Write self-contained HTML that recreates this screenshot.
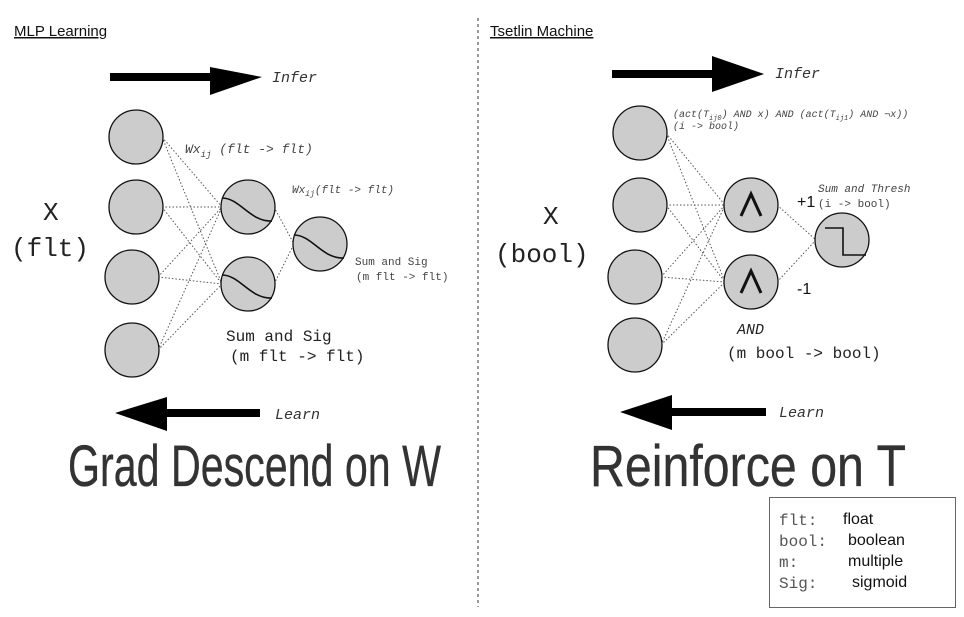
<!DOCTYPE html>
<html><head><meta charset="utf-8"><style>
html,body{margin:0;padding:0;background:#fff;}
svg{display:block;}
.mono{font-family:"Liberation Mono",monospace;}
.sans{font-family:"Liberation Sans",sans-serif;}
</style></head><body>
<svg width="964" height="617" viewBox="0 0 964 617" xmlns="http://www.w3.org/2000/svg">
<rect width="964" height="617" fill="#fff"/>
<line x1="478" y1="18" x2="478" y2="607" stroke="#333" stroke-dasharray="3,3" stroke-width="1"/>

<text x="14" y="36" class="sans" font-size="15" fill="#111" text-decoration="underline">MLP Learning</text>
<text x="490" y="36" class="sans" font-size="15" fill="#111" text-decoration="underline">Tsetlin Machine</text>

<!-- arrows -->
<g><rect x="110" y="73" width="102" height="8" fill="#000"/><polygon points="210,67 262,77 210,95" fill="#000"/></g>
<text x="272" y="82" class="mono" font-style="italic" font-size="15" fill="#333">Infer</text>
<g><rect x="165" y="409" width="95" height="8" fill="#000"/><polygon points="167,397 115,413 167,431" fill="#000"/></g>
<text x="275" y="419" class="mono" font-style="italic" font-size="15" fill="#333">Learn</text>

<g><rect x="612" y="70" width="102" height="8" fill="#000"/><polygon points="712,56 764,74 712,92" fill="#000"/></g>
<text x="775" y="78" class="mono" font-style="italic" font-size="15" fill="#333">Infer</text>
<g><rect x="670" y="408" width="96" height="8" fill="#000"/><polygon points="672,395 620,412 672,430" fill="#000"/></g>
<text x="779" y="417" class="mono" font-style="italic" font-size="15" fill="#333">Learn</text>

<g id="links" stroke="#555" stroke-width="1" stroke-dasharray="1.5,2" fill="none"></g>
<g id="nodes"></g>

<!-- left labels -->
<text x="43" y="220" class="mono" font-size="26" fill="#222">X</text>
<text x="11" y="256" class="mono" font-size="26" fill="#222">(flt)</text>
<text x="185" y="153" class="mono" font-style="italic" font-size="13" fill="#444">Wx<tspan font-size="9" dy="4">ij</tspan><tspan dy="-4"> (flt -&gt; flt)</tspan></text>
<text x="292" y="193" class="mono" font-style="italic" font-size="11" fill="#444">Wx<tspan font-size="8" dy="3">ij</tspan><tspan dy="-3">(flt -&gt; flt)</tspan></text>
<text x="355" y="265" class="mono" font-size="11" fill="#444">Sum and Sig</text>
<text x="356" y="280" class="mono" font-size="11" fill="#444">(m flt -&gt; flt)</text>
<text x="226" y="341" class="mono" font-size="16" fill="#222">Sum and Sig</text>
<text x="230" y="361" class="mono" font-size="16" fill="#222">(m flt -&gt; flt)</text>

<!-- right labels -->
<text x="543" y="224" class="mono" font-size="26" fill="#222">X</text>
<text x="495" y="262" class="mono" font-size="26" fill="#222">(bool)</text>
<text x="673" y="117" class="mono" font-style="italic" font-size="10" fill="#444">(act(T<tspan font-size="7" dy="3">ij0</tspan><tspan dy="-3">) AND x) AND (act(T</tspan><tspan font-size="7" dy="3">ij1</tspan><tspan dy="-3">) AND ¬x))</tspan></text>
<text x="673" y="129" class="mono" font-style="italic" font-size="10" fill="#444">(i -&gt; bool)</text>
<text x="797" y="207" class="sans" font-size="16" fill="#111">+1</text>
<text x="797" y="294" class="sans" font-size="16" fill="#111">-1</text>
<text x="818" y="192" class="mono" font-style="italic" font-size="11" fill="#444">Sum and Thresh</text>
<text x="818" y="207" class="mono" font-size="11" fill="#444">(i -&gt; bool)</text>
<text x="737" y="334" class="mono" font-style="italic" font-size="15" fill="#222">AND</text>
<text x="727" y="358" class="mono" font-size="16" fill="#222">(m bool -&gt; bool)</text>

<!-- big titles -->
<text x="68" y="486" class="sans" font-size="58" fill="#333" stroke="#222" stroke-width="0.3" textLength="373" lengthAdjust="spacingAndGlyphs">Grad Descend on W</text>
<text x="590" y="486" class="sans" font-size="58" fill="#333" stroke="#222" stroke-width="0.3" textLength="316" lengthAdjust="spacingAndGlyphs">Reinforce on T</text>

<!-- legend -->
<g>
<rect x="769.5" y="497.5" width="186" height="110" fill="#fff" stroke="#666" stroke-width="1"/>
<text x="779" y="525" class="mono" font-size="16" fill="#555">flt:</text><text x="843" y="524" class="sans" font-size="16" fill="#111">float</text>
<text x="779" y="546" class="mono" font-size="16" fill="#555">bool:</text><text x="848" y="545" class="sans" font-size="16" fill="#111">boolean</text>
<text x="779" y="567" class="mono" font-size="16" fill="#555">m:</text><text x="848" y="566" class="sans" font-size="16" fill="#111">multiple</text>
<text x="779" y="588" class="mono" font-size="16" fill="#555">Sig:</text><text x="852" y="587" class="sans" font-size="16" fill="#111">sigmoid</text>
</g>
</svg>
<script>
const NS='http://www.w3.org/2000/svg';
const links=document.getElementById('links'), nodes=document.getElementById('nodes');
const R=27;
const leftIn=[[136,137],[136,207],[132,277],[132,350]];
const leftHid=[[248,207],[248,284]];
const leftOut=[[320,244]];
const rightIn=[[640,133],[640,205],[635,277],[635,345]];
const rightHid=[[751,205],[751,282]];
const rightOut=[[842,240]];
function link(a,b){
  const l=document.createElementNS(NS,'line');
  l.setAttribute('x1',a[0]+R-1);l.setAttribute('y1',a[1]);
  l.setAttribute('x2',b[0]-R+1);l.setAttribute('y2',b[1]);
  
  
  links.appendChild(l);
}
function circle(c,name){
  const e=document.createElementNS(NS,'circle');
  e.setAttribute('cx',c[0]);e.setAttribute('cy',c[1]);e.setAttribute('r',R);
  e.setAttribute('fill','#cccccc');e.setAttribute('stroke','#111');e.setAttribute('stroke-width','1.3');
  
  
  nodes.appendChild(e);
}
function path(d,name,w){
  const p=document.createElementNS(NS,'path');
  p.setAttribute('d',d);p.setAttribute('fill','none');p.setAttribute('stroke','#111');p.setAttribute('stroke-width',w||'1.6');
  
  
  nodes.appendChild(p);
}
[[leftIn,leftHid],[leftHid,leftOut],[rightIn,rightHid],[rightHid,rightOut]].forEach(([A,B])=>A.forEach(a=>B.forEach(b=>link(a,b))));
leftIn.forEach(c=>circle(c,'input-node'));
rightIn.forEach(c=>circle(c,'input-node'));
leftHid.concat(leftOut).forEach(c=>{circle(c,'sigmoid-node');
  const x=c[0],y=c[1];
  path(`M${x-26},${y-9} C${x-8},${y-9} ${x+2},${y+15} ${x+24},${y+14}`,'sigmoid-curve');});
rightHid.forEach(c=>{circle(c,'and-node');
  const x=c[0],y=c[1];
  path(`M${x-10},${y+11} L${x},${y-11} L${x+10},${y+11}`,'and-symbol','3');});
rightOut.forEach(c=>{circle(c,'threshold-node');
  const x=c[0],y=c[1];
  path(`M${x-17},${y-12} L${x+1},${y-12} L${x+1},${y+15} L${x+24},${y+15}`,'step-symbol');});
</script>
</body></html>
